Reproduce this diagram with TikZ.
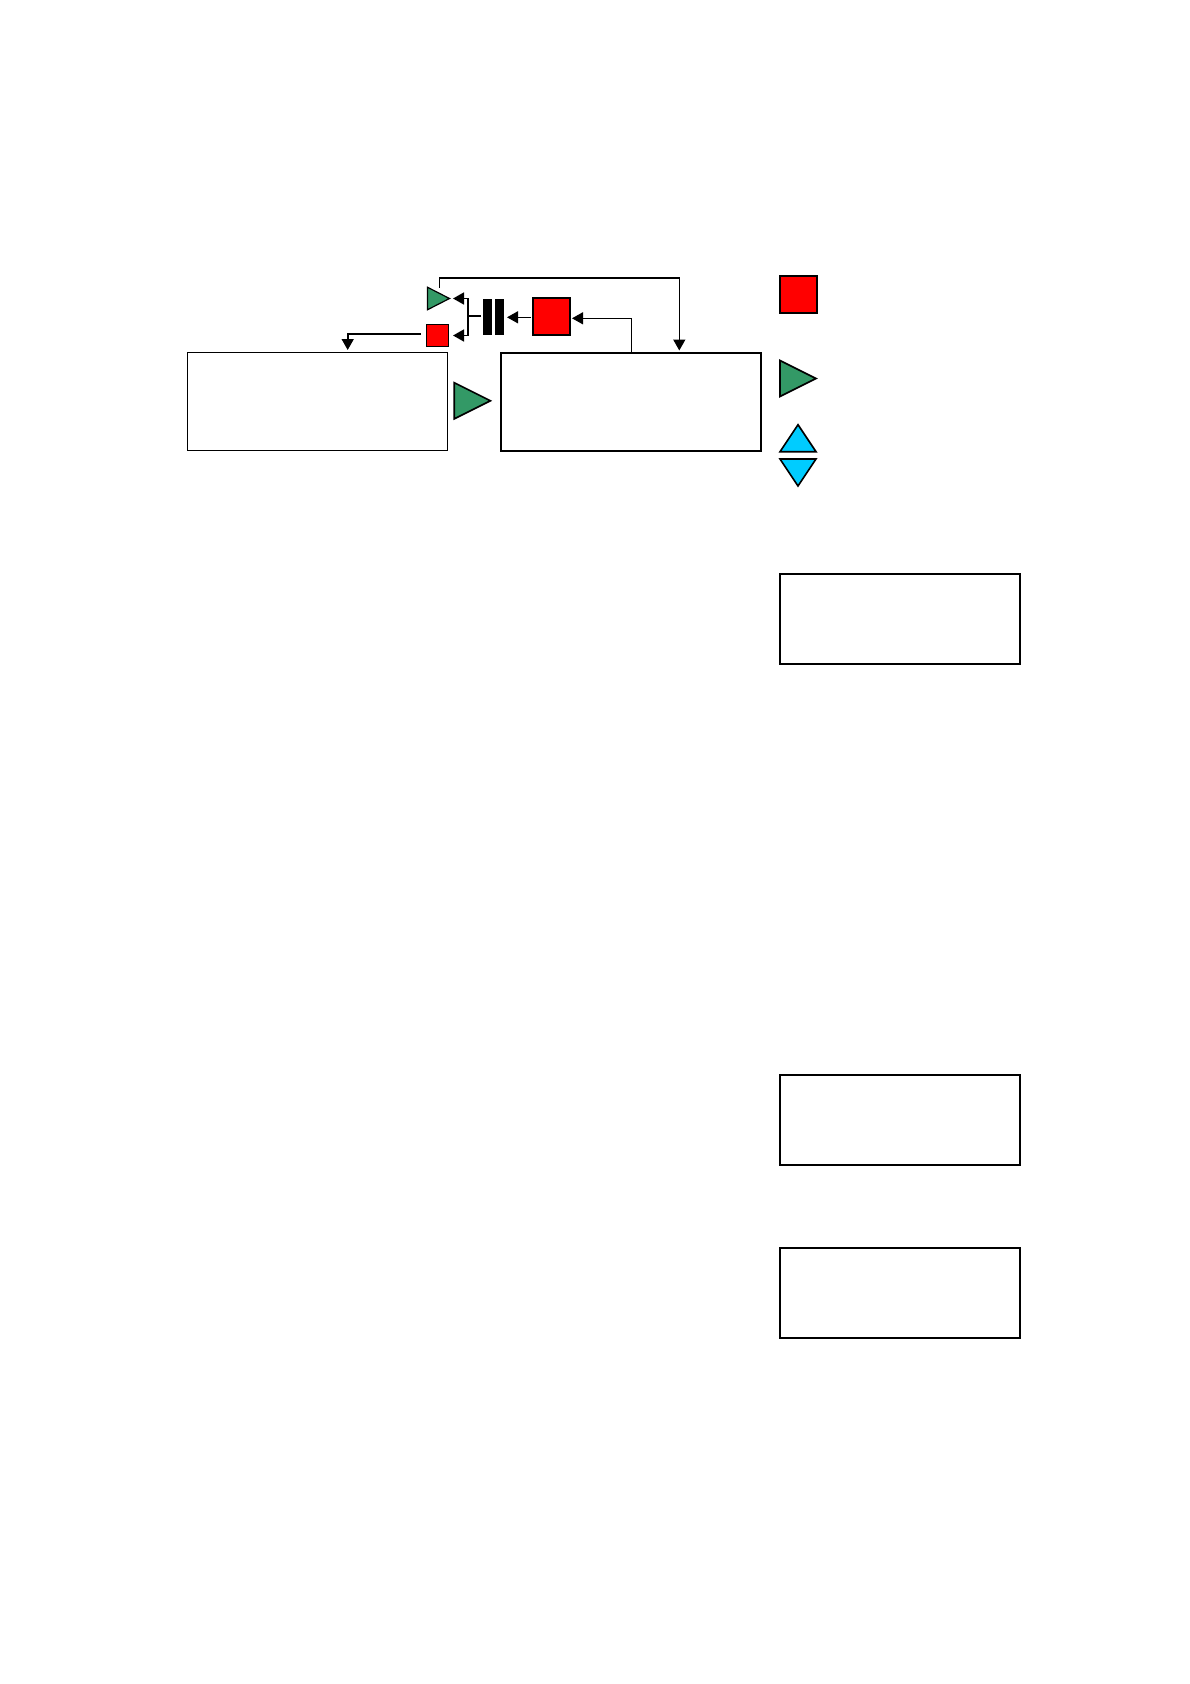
\documentclass[tikz,border=0pt]{standalone}
\usetikzlibrary{arrows.meta,shapes.geometric,calc}
\definecolor{gr}{RGB}{51,153,102}
\definecolor{rd}{RGB}{255,0,0}
\definecolor{cy}{RGB}{0,204,255}
\tikzset{
 x=1pt,y=-1pt,
 pxbox/.style={draw=black,line width=2pt,fill=white,rectangle,inner sep=0pt,outer sep=0pt,anchor=north west},
 redbox/.style={pxbox,fill=rd},
 barbox/.style={rectangle,fill=black,inner sep=0pt,outer sep=0pt,anchor=north west},
 tri/.style={draw=black,line width=1.6pt,fill=gr,isosceles triangle,isosceles triangle stretches=true,inner sep=0pt,outer sep=0pt,anchor=apex},
 conn/.style={draw=black,line width=1.6pt,-{Triangle[length=11pt,width=12pt]}},
 plain/.style={draw=black,line width=1.6pt},
}
\begin{document}
\begin{tikzpicture}
\useasboundingbox (0,0) rectangle (1190,1684);
\fill[white] (0,0) rectangle (1190,1684);
% main boxes
\node[pxbox,line width=1.2pt,minimum width=260.4pt,minimum height=98pt] (left) at (187.3,352.3) {};
\node[pxbox,minimum width=260pt,minimum height=98pt] (right) at (501,353) {};
% centre triangle
\node[tri,minimum width=36.2pt,minimum height=36.2pt] (tmid) at (490.4,400.8) {};
% small symbols
\node[tri,line width=1.2pt,minimum width=22.5pt,minimum height=22pt] (tsmall) at (449.5,298.5) {};
\node[redbox,line width=1.2pt,minimum width=22.4pt,minimum height=22pt] (rsmall) at (426.3,324.7) {};
\node[redbox,minimum width=37pt,minimum height=37pt] (rbig) at (532.6,298) {};
\node[barbox,minimum width=8.7pt,minimum height=36pt] (bara) at (483,298.7) {};
\node[barbox,minimum width=8.7pt,minimum height=36pt] (barb) at (495.3,298.7) {};
% legend
\node[redbox,minimum width=37.4pt,minimum height=37pt] (lred) at (779.8,276.4) {};
\node[tri,minimum width=36pt,minimum height=36pt] (lgreen) at (816,378.5) {};
\node[tri,fill=cy,shape border rotate=90,minimum width=36pt,minimum height=27pt,anchor=apex] (lup) at (798,424.7) {};
\node[tri,fill=cy,shape border rotate=270,minimum width=36pt,minimum height=27pt,anchor=apex] (ldown) at (798,486) {};
% right boxes
\node[pxbox,minimum width=240.3pt,minimum height=89.7pt] (boxa) at (779.7,574) {};
\node[pxbox,minimum width=240.3pt,minimum height=89.7pt] (boxb) at (779.7,1075) {};
\node[pxbox,minimum width=240.3pt,minimum height=90.5pt] (boxc) at (779.7,1247.8) {};
% connectors
\coordinate (topl) at (439.3,277.7);
\coordinate (topr) at (679.3,277.7);
\coordinate (tsrc) at (439.3,287.5);
\draw[conn,shorten >=2.5pt] (tsrc) -- (topl) -- (topr) -- (topr |- right.north);
\coordinate (rstart) at (420.7,334);
\coordinate (rturn) at (347.7,334);
\draw[conn,shorten >=2.3pt] (rstart) -- (rturn) -- (rturn |- left.north);
\coordinate (bup) at (631.3,318.3);
\draw[conn,line width=1.2pt] (right.north -| bup) -- (bup) -- (572,318.3);
\draw[conn,line width=1.2pt,shorten <=1.5pt] (rbig.west |- 0,317.3) -- (507,317.3);
\coordinate (bm) at (468,316);
\coordinate (bt) at (468,298.5);
\coordinate (bb) at (468,335.5);
\draw[plain] (481,316) -- (bm);
\draw[conn] (bm) -- (bt) -- (453,298.5);
\draw[conn] (bm) -- (bb) -- (453,335.5);
\end{tikzpicture}
\end{document}
